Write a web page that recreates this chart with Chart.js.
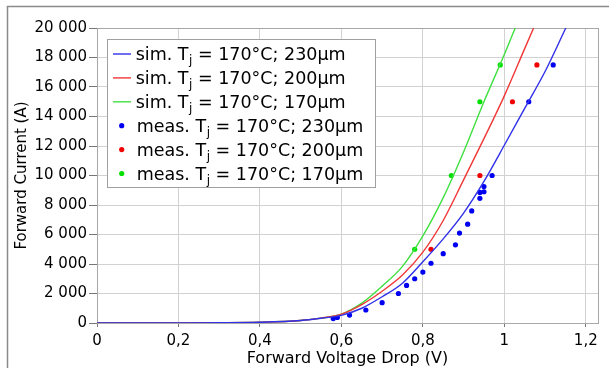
<!DOCTYPE html>
<html><head><meta charset="utf-8">
<script src="https://cdn.jsdelivr.net/npm/chart.js@4/dist/chart.umd.min.js"></script>
<style>html,body{margin:0;padding:0;background:#fff;overflow:hidden}</style>
</head><body>
<canvas id="c" width="609" height="368"></canvas>
<script>
// ---- data ----
const simVoltage    = [0, 0.1, 0.2, 0.3, 0.4, 0.5, 0.55, 0.6, 0.65, 0.7, 0.75, 0.8, 0.85, 0.9, 0.95, 1.0, 1.05, 1.1, 1.15, 1.2];
const simCurrent230 = [0, 0, 5, 15, 50, 170, 320, 520, 1000, 1780, 2700, 4150, 5700, 7450, 9600, 12050, 14550, 17050, 19950, 22900];
const simCurrent200 = [0, 0, 5, 15, 50, 170, 330, 600, 1250, 2150, 3250, 4800, 6950, 9700, 12500, 15400, 18600, 21800, 25000, 28200];
const simCurrent170 = [0, 0, 5, 15, 50, 170, 330, 600, 1350, 2500, 3840, 5900, 8500, 11600, 15000, 18200, 21600, 25000, 28400, 31800];

const measVoltage230 = [0.58, 0.59, 0.62, 0.66, 0.70, 0.74, 0.76, 0.78, 0.80, 0.82, 0.85, 0.88, 0.89, 0.91, 0.92, 0.94, 0.94, 0.95, 0.95, 0.97, 1.06, 1.12];
const measCurrent230 = [300, 380, 540, 880, 1380, 2000, 2550, 3000, 3450, 4050, 4700, 5300, 6100, 6700, 7600, 8450, 8850, 8900, 9250, 10000, 15000, 17500];
const measVoltage200 = [0.82, 0.94, 1.02, 1.08];
const measCurrent200 = [5000, 10000, 15000, 17500];
const measVoltage170 = [0.78, 0.87, 0.94, 0.99];
const measCurrent170 = [5000, 10000, 15000, 17500];

const seriesLabels = [
  'sim. Tj = 170°C; 230µm', 'sim. Tj = 170°C; 200µm', 'sim. Tj = 170°C; 170µm',
  'meas. Tj = 170°C; 230µm', 'meas. Tj = 170°C; 200µm', 'meas. Tj = 170°C; 170µm'
];
const xTitle = 'Forward Voltage Drop (V)';
const yTitle = 'Forward Current (A)';

// ---- helpers ----
const pts = (xs, ys) => xs.map((x, i) => ({x: x, y: ys[i]}));
const FONT = '"DejaVu Sans", sans-serif';
Chart.defaults.font.family = FONT;
Chart.defaults.color = '#000';

const lineDs = (label, xs, ys, color) => ({
  label, data: pts(xs, ys), showLine: true, borderColor: color, backgroundColor: color,
  borderWidth: 1.4, pointRadius: 0, cubicInterpolationMode: 'monotone', kind: 'line'
});
const dotDs = (label, xs, ys, color) => ({
  label, data: pts(xs, ys), showLine: false, borderColor: color, backgroundColor: color,
  pointRadius: 2.6, pointBorderWidth: 0, kind: 'dot'
});

const frame = {
  id: 'frame',
  beforeDraw(chart) {
    const ctx = chart.ctx;
    ctx.save();
    ctx.strokeStyle = '#8a8a8a'; ctx.lineWidth = 1.5;
    ctx.strokeRect(7.5, 6.5, 800, 600);
    ctx.restore();
  },
  beforeDatasetsDraw(chart) {
    const a = chart.chartArea, ctx = chart.ctx;
    ctx.save();
    ctx.strokeStyle = '#a8a8a8'; ctx.lineWidth = 1;
    ctx.strokeRect(Math.round(a.left) + 0.5, Math.round(a.top) + 0.5, Math.round(a.right - a.left), Math.round(a.bottom - a.top));
    ctx.restore();
  }
};

const boxLegend = {
  id: 'boxLegend',
  afterDraw(chart) {
    const ctx = chart.ctx;
    ctx.save();
    const x0 = 107.5, y0 = 39.5, w = 268, h = 148;
    ctx.fillStyle = '#fff'; ctx.fillRect(x0, y0, w, h);
    ctx.strokeStyle = '#a0a0a0'; ctx.lineWidth = 1; ctx.strokeRect(x0, y0, w, h);
    chart.data.datasets.forEach((ds, i) => {
      const yc = 54 + i * 23.9;
      let tx;
      if (ds.kind === 'line') {
        ctx.strokeStyle = ds.borderColor; ctx.lineWidth = 1.4;
        ctx.beginPath(); ctx.moveTo(113, yc); ctx.lineTo(131, yc); ctx.stroke();
        tx = 135.7;
      } else {
        ctx.fillStyle = ds.backgroundColor;
        ctx.beginPath(); ctx.arc(121.7, yc, 2.6, 0, Math.PI * 2); ctx.fill();
        tx = 136.7;
      }
      const parts = ds.label.split('Tj');
      const base = yc + 6.3;
      ctx.fillStyle = '#000'; ctx.textBaseline = 'alphabetic'; ctx.textAlign = 'left';
      ctx.font = '17.5px ' + FONT;
      const p1 = parts[0] + 'T';
      ctx.fillText(p1, tx, base); tx += ctx.measureText(p1).width;
      ctx.font = '12px ' + FONT;
      ctx.fillText('j', tx + 0.5, base + 4); tx += ctx.measureText('j').width + 0.5;
      ctx.font = '17.5px ' + FONT;
      ctx.fillText(parts[1], tx, base);
    });
    ctx.restore();
  }
};

new Chart(document.getElementById('c'), {
  type: 'scatter',
  data: {
    datasets: [
      lineDs(seriesLabels[0], simVoltage, simCurrent230, '#3030e8'),
      lineDs(seriesLabels[1], simVoltage, simCurrent200, '#f03838'),
      lineDs(seriesLabels[2], simVoltage, simCurrent170, '#40e040'),
      dotDs(seriesLabels[3], measVoltage230, measCurrent230, '#0000f0'),
      dotDs(seriesLabels[4], measVoltage200, measCurrent200, '#f00000'),
      dotDs(seriesLabels[5], measVoltage170, measCurrent170, '#00e000')
    ]
  },
  options: {
    responsive: false, animation: false, devicePixelRatio: 1,
    layout: {padding: {top: 28, right: 11, left: 0, bottom: 0}},
    plugins: {legend: {display: false}, tooltip: {enabled: false}},
    scales: {
      x: {
        type: 'linear', min: 0, max: 1.23,
        afterFit: s => { s.height = 45; },
        ticks: {stepSize: 0.2, includeBounds: false, padding: 5, font: {size: 15}, color: '#000',
          callback: v => (Math.round(v * 10) / 10).toString().replace('.', ',')},
        grid: {color: '#d2d2d2', tickColor: '#777', tickLength: 4, lineWidth: 1},
        border: {color: '#8a8a8a', width: 1},
        title: {display: true, text: xTitle, font: {size: 16}, color: '#000', padding: {top: 3, bottom: 0}}
      },
      y: {
        type: 'linear', min: 0, max: 20000,
        afterFit: s => { s.width = 97; },
        ticks: {stepSize: 2000, includeBounds: false, padding: 2, font: {size: 15}, color: '#000',
          callback: v => String(Math.round(v)).replace(/\B(?=(\d{3})+(?!\d))/g, ' ')},
        grid: {color: '#d2d2d2', tickColor: '#777', tickLength: 8, lineWidth: 1},
        border: {color: '#8a8a8a', width: 1},
        title: {display: true, text: yTitle, font: {size: 15}, color: '#000', padding: {top: 13, bottom: 0}}
      }
    }
  },
  plugins: [frame, boxLegend]
});
</script>
</body></html>
